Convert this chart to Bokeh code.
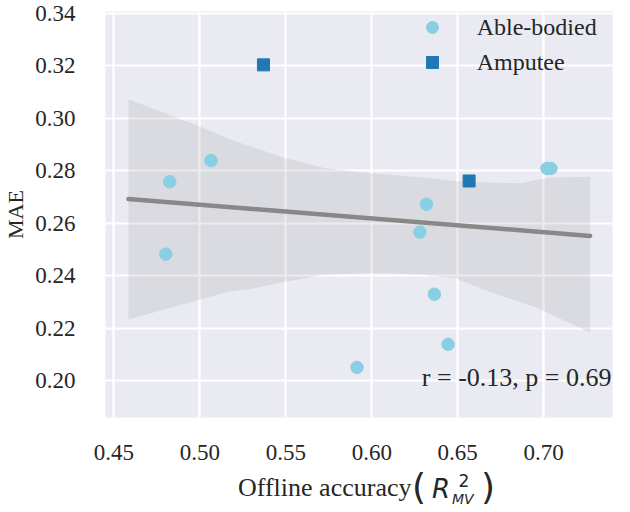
import numpy as np
from bokeh.plotting import figure
from bokeh.layouts import column
from bokeh.models import Range1d, Label, Legend, LegendItem, FixedTicker, Div
from bokeh.embed import file_html
from bokeh.resources import INLINE

# ---- data ----
able_x = [0.4825, 0.5065, 0.4802, 0.6318, 0.6280, 0.6364, 0.6444, 0.5914, 0.7019, 0.7042]
able_y = [0.2758, 0.2839, 0.2482, 0.2672, 0.2566, 0.2329, 0.2138, 0.2050, 0.2809, 0.2809]
amp_x = [0.5370, 0.6566]
amp_y = [0.3204, 0.2761]

fit_x = [0.4585, 0.7270]

band_upper_x = [0.4585, 0.5000, 0.5210, 0.5495, 0.5724, 0.5971, 0.6295, 0.6543, 0.6867, 0.6960, 0.7057, 0.7270]
band_upper_y = [0.3073, 0.2969, 0.2912, 0.2849, 0.2811, 0.2792, 0.2774, 0.2757, 0.2752, 0.2765, 0.2774, 0.2777]
band_lower_x = [0.4585, 0.4924, 0.5153, 0.5305, 0.5495, 0.5724, 0.5971, 0.6086, 0.6295, 0.6486, 0.6676, 0.6962, 0.7270]
band_lower_y = [0.2233, 0.2295, 0.2337, 0.2350, 0.2377, 0.2403, 0.2409, 0.2409, 0.2403, 0.2390, 0.2340, 0.2277, 0.2182]

x_ticks = [0.45, 0.50, 0.55, 0.60, 0.65, 0.70]
x_tick_labels = ["0.45", "0.50", "0.55", "0.60", "0.65", "0.70"]
y_ticks = [0.20, 0.22, 0.24, 0.26, 0.28, 0.30, 0.32, 0.34]
y_tick_labels = ["0.20", "0.22", "0.24", "0.26", "0.28", "0.30", "0.32", "0.34"]

series_names = ["Able-bodied", "Amputee"]
y_label = "MAE"
x_label = "Offline accuracy"
x_label_math = ["(", "R", "2", "MV", ")"]
stats_text = "r = -0.13, p = 0.69"

# ---- style ----
SERIF = "Liberation Serif"
MATH = "DejaVu Sans"
TEXT = "#262626"
C_ABLE = "#89CFE4"
C_AMP = "#1F77B4"

p = figure(width=614, height=466, output_backend="svg", toolbar_location=None,
           x_range=Range1d(0.44514, 0.7400), y_range=Range1d(0.18588, 0.34076),
           min_border_left=96, min_border_right=2, min_border_top=11, min_border_bottom=49)
p.background_fill_color = "#EAEAF2"
p.border_fill_color = "white"
p.outline_line_color = None

for ax in (p.xaxis[0], p.yaxis[0]):
    ax.axis_line_color = None
    ax.major_tick_line_color = None
    ax.minor_tick_line_color = None
    ax.major_label_text_font = SERIF
    ax.major_label_text_font_size = "23px"
    ax.major_label_text_color = TEXT

p.xaxis.ticker = FixedTicker(ticks=x_ticks)
p.xaxis.major_label_overrides = {t: l for t, l in zip(x_ticks, x_tick_labels)}
p.xaxis.major_label_standoff = 21
p.yaxis.ticker = FixedTicker(ticks=y_ticks)
p.yaxis.major_label_overrides = {t: l for t, l in zip(y_ticks, y_tick_labels)}
p.yaxis.major_label_standoff = 24
p.yaxis.axis_label = y_label
p.yaxis.axis_label_text_font = SERIF
p.yaxis.axis_label_text_font_size = "22px"
p.yaxis.axis_label_text_font_style = "normal"
p.yaxis.axis_label_text_color = TEXT
p.yaxis.axis_label_standoff = 4

for g in (p.xgrid[0], p.ygrid[0]):
    g.grid_line_color = "white"
    g.grid_line_width = 2.2

# confidence band
band_x = band_upper_x + band_lower_x[::-1]
band_y = band_upper_y + band_lower_y[::-1]
p.patch(band_x, band_y, fill_color="#808080", fill_alpha=0.15, line_color=None)

# regression line fitted on all points
all_x = np.array(able_x + amp_x)
all_y = np.array(able_y + amp_y)
slope, intercept = np.polyfit(all_x, all_y, 1)
fx = np.array(fit_x)
p.line(fx, slope * fx + intercept, line_color="#888888", line_width=4.5, line_cap="round")

r_able = p.scatter(able_x, able_y, marker="circle", size=12.5, fill_color=C_ABLE, line_color=C_ABLE)
r_amp = p.scatter(amp_x, amp_y, marker="square", size=12, fill_color=C_AMP, line_color=C_AMP)

legend = Legend(items=[LegendItem(label=series_names[0], renderers=[r_able]),
                       LegendItem(label=series_names[1], renderers=[r_amp])],
                location=(311.7, 340), padding=0, margin=0, spacing=5,
                glyph_width=30, glyph_height=30, label_standoff=30,
                label_text_font=SERIF, label_text_font_size="24px", label_text_color=TEXT,
                background_fill_alpha=0, border_line_alpha=0)
p.add_layout(legend, "center")

# statistics annotation
p.add_layout(Label(x=506, y=40.3, x_units="screen", y_units="screen", text=stats_text,
                   text_align="right", text_baseline="alphabetic",
                   text_font=SERIF, text_font_size="26px", text_color=TEXT))

# ---- x axis label strip (text with math-like parts) as HTML ----
def span(text, left, top, font, size, italic=False):
    style = ("position:absolute;left:%.1fpx;top:%.1fpx;font-family:'%s';font-size:%dpx;"
             "line-height:1;white-space:nowrap;color:%s;font-style:%s;")
    style = style % (left, top, font, size, TEXT, "italic" if italic else "normal")
    return '<span style="%s">%s</span>' % (style, text)


html = ('<div style="position:relative;width:614px;height:42px;margin:0;padding:0;">'
        + span(x_label, 238, 9.2, SERIF, 26)
        + span(x_label_math[0], 412, 3.0, MATH, 36)
        + span(x_label_math[1], 432, 10.0, MATH, 26, italic=True)
        + span(x_label_math[2], 458.5, 6.6, MATH, 17)
        + span(x_label_math[3], 452, 26.2, MATH, 14, italic=True)
        + span(x_label_math[4], 481, 3.0, MATH, 36)
        + '</div>')
xlabel_div = Div(text=html, width=614, height=42, margin=0)

layout = column(p, xlabel_div, spacing=0)
open("out.html", "w").write(file_html(layout, INLINE))
